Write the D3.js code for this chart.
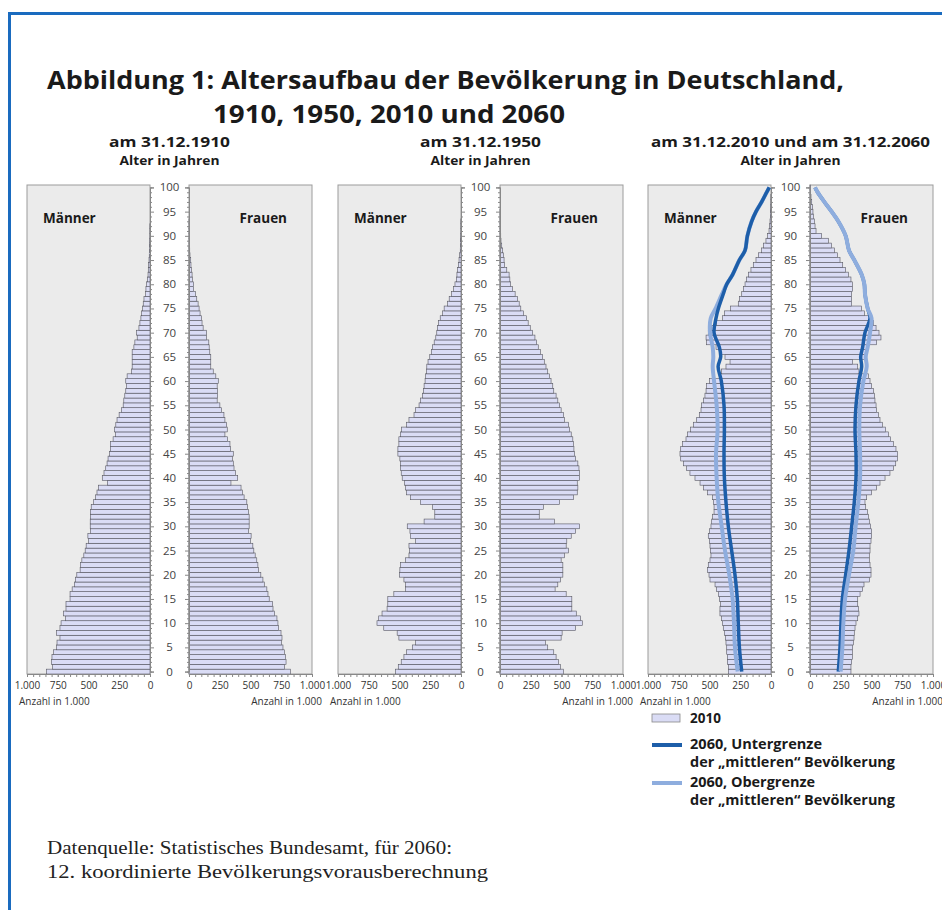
<!DOCTYPE html>
<html>
<head>
<meta charset="utf-8">
<script src="https://cdn.jsdelivr.net/npm/d3@7"></script>
<style>
body { margin: 0; background: #fff; }
svg { display: block; }
</style>
</head>
<body>
<div id="chart"></div>
<script>
// ages 0..100 (one bar per year)
var ages = d3.range(0, 101);
var ageTicks = [0, 5, 10, 15, 20, 25, 30, 35, 40, 45, 50, 55, 60, 65, 70, 75, 80, 85, 90, 95, 100];
var countTicks = [0, 250, 500, 750, 1000];

// population in 1.000, index = age
var m1910 = [841,792,800,797,783,759,756,732,759,732,
  723,688,702,683,683,650,650,633,614,606,
  595,568,565,554,538,527,519,500,505,483,
  486,486,483,483,478,459,442,431,418,347,
  388,374,360,349,341,328,322,322,300,281,
  287,278,268,251,232,218,213,205,197,191,
  197,186,150,145,145,145,145,131,123,104,
  109,90,82,74,68,60,55,49,35,33,
  27,22,16,14,11,8,6,4,3,2,
  1,1,1,0,0,0,0,0,0,0,0];
var f1910 = [824,778,789,784,775,764,751,756,748,729,
  723,715,696,683,680,652,642,633,612,601,
  584,565,560,551,538,527,519,500,505,483,
  489,489,489,483,475,470,448,434,423,341,
  396,379,366,360,352,360,339,333,314,292,
  311,306,292,284,265,251,229,232,232,229,
  238,218,197,177,177,177,169,164,161,142,
  142,115,106,101,90,82,74,63,52,38,
  38,27,25,19,16,14,8,6,4,3,
  2,1,1,1,0,0,0,0,0,0,0];
var m1950 = [532,510,486,464,442,396,369,505,519,628,
  683,669,642,601,595,595,546,450,450,464,
  500,497,491,450,423,418,423,369,410,415,
  437,300,213,213,232,328,410,442,450,459,
  478,486,491,491,497,513,513,505,505,491,
  483,442,423,382,369,341,328,314,306,300,
  292,287,281,278,268,254,240,232,218,205,
  197,191,183,169,150,137,109,96,76,60,
  49,38,33,27,22,16,11,6,4,3,
  2,1,1,1,0,0,0,0,0,0,0];
var f1950 = [516,491,475,456,437,388,369,497,505,614,
  669,655,620,584,584,584,538,448,470,491,
  511,511,511,497,524,557,538,543,579,614,
  647,442,319,319,352,483,598,628,633,628,
  647,647,642,633,614,606,601,598,592,579,
  565,557,524,516,497,483,470,456,437,429,
  415,401,388,374,360,347,328,311,298,284,
  265,246,229,216,191,169,156,142,123,101,
  87,80,74,55,38,33,27,22,14,8,
  6,4,3,2,1,1,0,0,0,0,0];
var m2010 = [347,347,355,355,360,360,366,371,379,388,
  393,401,415,415,409,420,428,442,455,496,
  504,515,510,496,488,491,496,501,510,501,
  488,482,474,463,463,469,474,515,550,577,
  618,659,686,713,734,740,734,718,691,678,
  653,631,604,583,569,564,550,537,528,523,
  501,415,401,366,333,374,415,447,523,528,
  510,482,442,393,379,328,266,257,238,225,
  211,198,184,163,144,122,103,76,62,41,
  27,16,11,8,5,3,2,1,1,0,0];
var f2010 = [333,333,339,344,344,347,352,358,360,366,
  374,388,398,393,388,388,407,428,439,482,
  496,496,488,482,482,488,488,496,501,501,
  493,482,474,466,453,447,461,501,542,569,
  610,650,678,697,713,713,699,678,656,637,
  615,588,569,556,542,537,528,523,515,501,
  488,474,398,388,347,461,469,474,542,577,
  561,537,515,482,442,420,339,339,339,347,
  344,333,312,290,266,244,222,198,176,149,
  95,49,41,35,27,24,19,14,8,5,3];

// 2060 projection, read at these ages
var lineAges = [0,5,10,15,20,25,30,35,40,45,50,55,60,63,65,67,70,73,75,78,80,82,85,87,90,93,95,97,99,100];
var m2060low  = [238,257,266,274,293,320,347,366,379,382,379,382,404,430,409,420,463,447,428,388,360,312,257,211,192,157,122,76,35,14];
var m2060high = [271,293,301,312,339,374,401,428,442,447,434,442,463,474,469,474,496,490,450,398,360,312,257,211,192,157,122,76,35,14];
var f2060low  = [230,244,252,263,290,317,339,360,374,374,366,374,398,420,412,428,447,488,469,447,442,420,360,317,290,230,176,117,62,41];
var f2060high = [249,263,271,285,317,352,371,393,407,407,401,407,434,461,453,469,488,500,469,447,442,420,360,317,290,230,176,117,62,41];

var panels = [
  {title: "am 31.12.1910", titleW: 121, m: m1910, f: f1910},
  {title: "am 31.12.1950", titleW: 121, m: m1950, f: f1950},
  {title: "am 31.12.2010 und am 31.12.2060", titleW: 279, m: m2010, f: f2010, lines: true}
];

var W = 123, GAP = 39, TOP = 185, BOT = 674;
var panelLeft = [27, 338, 648];
var darkBlue = "#1d5ea9", lightBlue = "#8eadde";
var SANS = '"Open Sans", sans-serif';
var SERIF = '"Liberation Serif", serif';

var svg = d3.select("#chart").append("svg")
  .attr("width", 942)
  .attr("height", 910)
  .style("font-family", SANS);

// blue frame
svg.append("path")
  .attr("d", "M9.5,910 V13.5 H942")
  .attr("fill", "none")
  .attr("stroke", "#1a6bbf")
  .attr("stroke-width", 3);

svg.append("text")
  .attr("x", 47).attr("y", 89)
  .attr("font-size", 25).attr("font-weight", 700).attr("fill", "#1a1a1a")
  .attr("textLength", 797).attr("lengthAdjust", "spacingAndGlyphs")
  .text("Abbildung 1: Altersaufbau der Bevölkerung in Deutschland,");
svg.append("text")
  .attr("x", 213).attr("y", 123)
  .attr("font-size", 25).attr("font-weight", 700).attr("fill", "#1a1a1a")
  .attr("textLength", 352).attr("lengthAdjust", "spacingAndGlyphs")
  .text("1910, 1950, 2010 und 2060");

var de = d3.formatLocale({decimal: ",", thousands: ".", grouping: [3], currency: ["", " €"]});
var fmt = de.format(",");

var y = d3.scaleBand().domain(ages).range([BOT, TOP]);
var yc = d3.scaleLinear().domain([0, 100])
  .range([y(0) + y.bandwidth() / 2, y(100) + y.bandwidth() / 2]);

panels.forEach(function(p, i) {
  var g = svg.append("g").attr("transform", "translate(" + panelLeft[i] + ",0)");
  var xm = d3.scaleLinear().domain([1000, 0]).range([0, W]);
  var xf = d3.scaleLinear().domain([0, 1000]).range([W + GAP, 2 * W + GAP]);
  var mid = W + GAP / 2;

  g.append("text").attr("x", mid - p.titleW / 2).attr("y", 147)
    .attr("font-size", 14.5).attr("font-weight", 700)
    .attr("textLength", p.titleW).attr("lengthAdjust", "spacingAndGlyphs")
    .attr("fill", "#1a1a1a").text(p.title);
  g.append("text").attr("x", mid - 50).attr("y", 165)
    .attr("font-size", 12.5).attr("font-weight", 700)
    .attr("textLength", 100).attr("lengthAdjust", "spacingAndGlyphs")
    .attr("fill", "#1a1a1a").text("Alter in Jahren");

  [xm.range(), xf.range()].forEach(function(r) {
    g.append("rect")
      .attr("x", r[0]).attr("y", TOP)
      .attr("width", r[1] - r[0]).attr("height", BOT - TOP)
      .attr("fill", "#ebebeb").attr("stroke", "#9c9c9c").attr("stroke-width", 1);
  });

  g.append("text").attr("x", 16).attr("y", 223)
    .attr("font-size", 13.5).attr("font-weight", 700).attr("fill", "#1a1a1a").text("Männer");
  g.append("text").attr("x", 2 * W + GAP - 25).attr("y", 223).attr("text-anchor", "end")
    .attr("font-size", 13.5).attr("font-weight", 700).attr("fill", "#1a1a1a").text("Frauen");

  g.append("g").selectAll("rect").data(p.m).enter().append("rect")
    .attr("x", function(d) { return xm(d); })
    .attr("y", function(d, a) { return y(a); })
    .attr("width", function(d) { return xm(0) - xm(d); })
    .attr("height", y.bandwidth())
    .attr("fill", "#dadcf5").attr("stroke", "#55555f").attr("stroke-width", 0.6);
  g.append("g").selectAll("rect").data(p.f).enter().append("rect")
    .attr("x", xf(0))
    .attr("y", function(d, a) { return y(a); })
    .attr("width", function(d) { return xf(d) - xf(0); })
    .attr("height", y.bandwidth())
    .attr("fill", "#dadcf5").attr("stroke", "#55555f").attr("stroke-width", 0.6);

  if (p.lines) {
    var lm = d3.line().x(function(d) { return xm(d[1]); }).y(function(d) { return yc(d[0]); })
      .curve(d3.curveCatmullRom);
    var lf = d3.line().x(function(d) { return xf(d[1]); }).y(function(d) { return yc(d[0]); })
      .curve(d3.curveCatmullRom);
    var pts = function(vals) { return lineAges.map(function(a, k) { return [a, vals[k]]; }); };
    g.append("path").attr("d", lm(pts(m2060high))).attr("fill", "none")
      .attr("stroke", lightBlue).attr("stroke-width", 4);
    g.append("path").attr("d", lm(pts(m2060low))).attr("fill", "none")
      .attr("stroke", darkBlue).attr("stroke-width", 3.5);
    g.append("path").attr("d", lf(pts(f2060low))).attr("fill", "none")
      .attr("stroke", darkBlue).attr("stroke-width", 3.5);
    g.append("path").attr("d", lf(pts(f2060high))).attr("fill", "none")
      .attr("stroke", lightBlue).attr("stroke-width", 4);
  }

  // age axes on the inner box edges
  var minorAges = ages.filter(function(a) { return a % 5 !== 0; });
  g.append("g").attr("transform", "translate(" + W + ",0)")
    .call(d3.axisRight(yc).tickValues(ageTicks).tickSize(4).tickFormat(""));
  g.append("g").attr("transform", "translate(" + W + ",0)")
    .call(d3.axisRight(yc).tickValues(minorAges).tickSize(2).tickFormat(""));
  g.append("g").attr("transform", "translate(" + (W + GAP) + ",0)")
    .call(d3.axisLeft(yc).tickValues(ageTicks).tickSize(4).tickFormat(""));
  g.append("g").attr("transform", "translate(" + (W + GAP) + ",0)")
    .call(d3.axisLeft(yc).tickValues(minorAges).tickSize(2).tickFormat(""));
  g.append("g").selectAll("text").data(ageTicks).enter().append("text")
    .attr("x", mid).attr("y", function(d) { return yc(d); }).attr("dy", "0.35em")
    .attr("text-anchor", "middle").attr("font-size", 11.5).attr("fill", "#444")
    .text(function(d) { return d; });

  // count axes
  [xm, xf].forEach(function(sc) {
    g.append("g").attr("transform", "translate(0," + BOT + ")")
      .call(d3.axisBottom(sc).tickValues(d3.range(0, 1001, 50)).tickSize(3).tickFormat(""));
    var ax = g.append("g").attr("transform", "translate(0," + BOT + ")")
      .call(d3.axisBottom(sc).tickValues(countTicks).tickSize(3).tickPadding(5).tickFormat(fmt));
    ax.selectAll("text").attr("font-size", 10).attr("fill", "#333")
      .style("font-family", SANS);
  });
  g.selectAll(".domain").attr("stroke", "#888");
  g.selectAll(".tick line").attr("stroke", "#888");

  g.append("text").attr("x", -8).attr("y", 705)
    .attr("font-size", 10).attr("fill", "#333").text("Anzahl in 1.000");
  g.append("text").attr("x", 2 * W + GAP + 10).attr("y", 705).attr("text-anchor", "end")
    .attr("font-size", 10).attr("fill", "#333").text("Anzahl in 1.000");
});

// legend
var lg = svg.append("g").attr("transform", "translate(652,0)");
lg.append("rect").attr("x", 0).attr("y", 714).attr("width", 28).attr("height", 8)
  .attr("fill", "#dadcf5").attr("stroke", "#888").attr("stroke-width", 0.8);
lg.append("line").attr("x1", 0).attr("x2", 30).attr("y1", 745).attr("y2", 745)
  .attr("stroke", darkBlue).attr("stroke-width", 4);
lg.append("line").attr("x1", 0).attr("x2", 30).attr("y1", 783).attr("y2", 783)
  .attr("stroke", lightBlue).attr("stroke-width", 4);
var legendText = [
  ["2010", 723, 0],
  ["2060, Untergrenze", 749, 132],
  ["der „mittleren“ Bevölkerung", 767, 205],
  ["2060, Obergrenze", 787, 125],
  ["der „mittleren“ Bevölkerung", 805, 205]
];
lg.selectAll("text.lt").data(legendText).enter().append("text")
  .attr("x", 38).attr("y", function(d) { return d[1]; })
  .attr("font-size", 13.5).attr("font-weight", 700).attr("fill", "#1a1a1a")
  .each(function(d) {
    if (d[2]) d3.select(this).attr("textLength", d[2]).attr("lengthAdjust", "spacingAndGlyphs");
  })
  .text(function(d) { return d[0]; });

svg.append("text").attr("x", 47).attr("y", 854)
  .style("font-family", SERIF).attr("font-size", 19).attr("fill", "#222")
  .attr("textLength", 405).attr("lengthAdjust", "spacingAndGlyphs")
  .text("Datenquelle: Statistisches Bundesamt, für 2060:");
svg.append("text").attr("x", 47).attr("y", 878)
  .style("font-family", SERIF).attr("font-size", 19).attr("fill", "#222")
  .attr("textLength", 441).attr("lengthAdjust", "spacingAndGlyphs")
  .text("12. koordinierte Bevölkerungsvorausberechnung");
</script>
</body>
</html>
